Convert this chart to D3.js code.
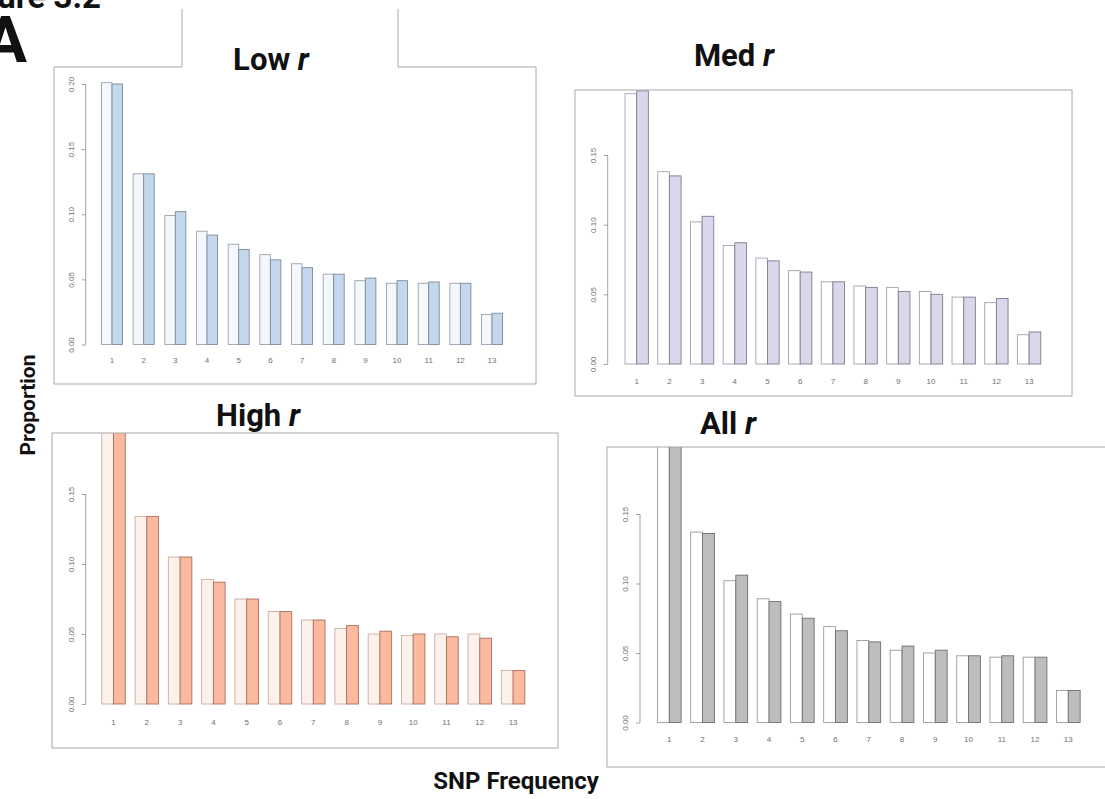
<!DOCTYPE html>
<html>
<head>
<meta charset="utf-8">
<script src="https://cdn.jsdelivr.net/npm/d3@7"></script>
<style>
  body { margin: 0; background: #fff; }
  svg { display: block; font-family: Roboto, "Liberation Sans", sans-serif; }
</style>
</head>
<body>
<svg id="fig" width="1105" height="799"></svg>
<script>
// SNP frequency classes
const freqs = ["1", "2", "3", "4", "5", "6", "7", "8", "9", "10", "11", "12", "13"];

// proportions (white bar = first series, coloured bar = second)
const lowWhite = [0.201, 0.131, 0.099, 0.087, 0.077, 0.069, 0.062, 0.054, 0.049, 0.047, 0.047, 0.047, 0.023];
const lowColor = [0.200, 0.131, 0.102, 0.084, 0.073, 0.065, 0.059, 0.054, 0.051, 0.049, 0.048, 0.047, 0.024];
const medWhite = [0.194, 0.138, 0.102, 0.085, 0.076, 0.067, 0.059, 0.056, 0.055, 0.052, 0.048, 0.044, 0.021];
const medColor = [0.196, 0.135, 0.106, 0.087, 0.074, 0.066, 0.059, 0.055, 0.052, 0.050, 0.048, 0.047, 0.023];
const highWhite = [0.200, 0.134, 0.105, 0.089, 0.075, 0.066, 0.060, 0.054, 0.050, 0.049, 0.050, 0.050, 0.024];
const highColor = [0.200, 0.134, 0.105, 0.087, 0.075, 0.066, 0.060, 0.056, 0.052, 0.050, 0.048, 0.047, 0.024];
const allWhite = [0.200, 0.137, 0.102, 0.089, 0.078, 0.069, 0.059, 0.052, 0.050, 0.048, 0.047, 0.047, 0.023];
const allColor = [0.200, 0.136, 0.106, 0.087, 0.075, 0.066, 0.058, 0.055, 0.052, 0.048, 0.048, 0.047, 0.023];

const lowTicks = [0, 0.05, 0.1, 0.15, 0.2];
const otherTicks = [0, 0.05, 0.1, 0.15];

const svg = d3.select("#fig");
const fmt = d3.format(".2f");

const panels = [
  {
    id: "low", title: "Low ", white: lowWhite, color: lowColor, ticks: lowTicks,
    box: [54, 67, 536, 384], y0: 344.5, yTop: 84, yMax: 0.2, axisX: 85.7,
    c1: 112, step: 31.67, pad: 0.337, labelY: 360,
    fills: ["#f4f8fc", "#c4d8ed"], stroke: "#9aa3ad", mid: "#7b8b9c",
    titleX: 271, titleY: 70
  },
  {
    id: "med", title: "Med ", white: medWhite, color: medColor, ticks: otherTicks,
    box: [575, 90, 1072, 396], y0: 364, yTop: 155, yMax: 0.15, axisX: 607.7,
    c1: 636.7, step: 32.7, pad: 0.287, labelY: 381,
    fills: ["#ffffff", "#d8d8ea"], stroke: "#a2a2ae", mid: "#7c7c92",
    titleX: 734, titleY: 66
  },
  {
    id: "high", title: "High ", white: highWhite, color: highColor, ticks: otherTicks,
    box: [52, 433, 558, 748], y0: 704, yTop: 494, yMax: 0.15, axisX: 85.7,
    c1: 113.5, step: 33.3, pad: 0.295, labelY: 722,
    fills: ["#fdf1ec", "#fbb99f"], stroke: "#c9aea4", mid: "#a9705c",
    titleX: 258, titleY: 426
  },
  {
    id: "all", title: "All ", white: allWhite, color: allColor, ticks: otherTicks,
    box: [607, 447, 1115, 767], y0: 722.5, yTop: 514, yMax: 0.15, axisX: 640,
    c1: 669.3, step: 33.25, pad: 0.287, labelY: 739,
    fills: ["#ffffff", "#bdbdbd"], stroke: "#9a9a9a", mid: "#6f6f6f",
    titleX: 728, titleY: 434
  }
];

function drawPanel(p) {
  const [bx0, by0, bx1, by1] = p.box;
  const g = svg.append("g").attr("class", "panel-" + p.id);

  g.append("clipPath").attr("id", "clip-" + p.id)
    .append("rect").attr("x", bx0).attr("y", by0).attr("width", bx1 - bx0).attr("height", by1 - by0);

  const x = d3.scaleBand()
    .domain(freqs)
    .range([p.c1 - p.step / 2, p.c1 + (freqs.length - 0.5) * p.step])
    .paddingInner(p.pad)
    .paddingOuter(p.pad / 2);
  const xs = d3.scaleBand().domain(["white", "color"]).range([0, x.bandwidth()]);
  const y = d3.scaleLinear().domain([0, p.yMax]).range([p.y0, p.yTop]);

  const rows = freqs.map((f, i) => ({ f, white: p.white[i], color: p.color[i] }));

  const bars = g.append("g").attr("clip-path", `url(#clip-${p.id})`)
    .selectAll(".grp")
    .data(rows)
    .join("g")
    .attr("class", "grp")
    .attr("transform", (d) => `translate(${x(d.f)},0)`);

  bars.selectAll("rect")
    .data((d) => [{ k: "white", v: d.white }, { k: "color", v: d.color }])
    .join("rect")
    .attr("x", (d) => xs(d.k))
    .attr("y", (d) => y(d.v))
    .attr("width", xs.bandwidth())
    .attr("height", (d) => y(0) - y(d.v))
    .attr("fill", (d) => (d.k === "white" ? p.fills[0] : p.fills[1]))
    .attr("stroke", (d) => (d.k === "white" ? p.stroke : p.mid))
    .attr("stroke-width", 0.9);

  // y axis, R style: rotated labels, line only over tick range
  const yAxis = g.append("g")
    .attr("transform", `translate(${p.axisX},0)`)
    .call(d3.axisLeft(y).tickValues(p.ticks).tickFormat(fmt).tickSize(4).tickSizeOuter(0));
  yAxis.select(".domain").attr("stroke", "#8a8a8a").attr("stroke-width", 0.8)
    .attr("d", `M0,${y(p.ticks[0])}V${y(p.ticks[p.ticks.length - 1])}`);
  yAxis.selectAll(".tick line").attr("stroke", "#8a8a8a").attr("stroke-width", 0.8);
  yAxis.selectAll(".tick text")
    .attr("x", 0).attr("dy", 0)
    .attr("transform", "translate(-12,0) rotate(-90)")
    .attr("text-anchor", "middle")
    .attr("fill", "#707070")
    .style("font-size", "8px");

  // x tick labels (no axis line, as in base R barplot)
  const xAxis = g.append("g")
    .attr("transform", `translate(0,${p.labelY})`)
    .call(d3.axisBottom(x).tickSize(0));
  xAxis.select(".domain").remove();
  xAxis.selectAll(".tick text").attr("y", 0).attr("dy", "0.32em")
    .attr("fill", "#707070").style("font-size", "8px");

  // panel frame
  if (p.id === "low") {
    // frame broken by the title tab above it
    const tab = [182, 398];
    g.append("path")
      .attr("d", `M${tab[0]},${by0}H${bx0}V${by1}H${bx1}V${by0}H${tab[1]}V9M${tab[0]},${by0}V9`)
      .attr("fill", "none").attr("stroke", "#a8a8a8").attr("stroke-width", 1);
  } else {
    g.append("rect")
      .attr("x", bx0).attr("y", by0).attr("width", bx1 - bx0).attr("height", by1 - by0)
      .attr("fill", "none").attr("stroke", "#a8a8a8").attr("stroke-width", 1);
  }

  const t = svg.append("text")
    .attr("x", p.titleX).attr("y", p.titleY)
    .attr("text-anchor", "middle")
    .style("font-size", "31px").style("font-weight", "700").attr("fill", "#111");
  t.append("tspan").text(p.title);
  t.append("tspan").style("font-style", "italic").text("r");
}

panels.forEach(drawPanel);

// figure labels (cut by the page edge, as in the source)
svg.append("text").attr("x", 101).attr("y", 8).attr("text-anchor", "end")
  .style("font-size", "33px").style("font-weight", "700").attr("fill", "#111").text("Figure 3.2");
svg.append("text").attr("x", 27).attr("y", 62).attr("text-anchor", "end")
  .style("font-size", "64px").style("font-weight", "700").attr("fill", "#111").text("A");

svg.append("text")
  .attr("transform", "translate(35,405) rotate(-90)")
  .attr("text-anchor", "middle")
  .style("font-size", "21px").style("font-weight", "700").attr("fill", "#111")
  .text("Proportion");

svg.append("text")
  .attr("x", 516).attr("y", 789)
  .attr("text-anchor", "middle")
  .style("font-size", "24px").style("font-weight", "700").attr("fill", "#111")
  .text("SNP Frequency");
</script>
</body>
</html>
